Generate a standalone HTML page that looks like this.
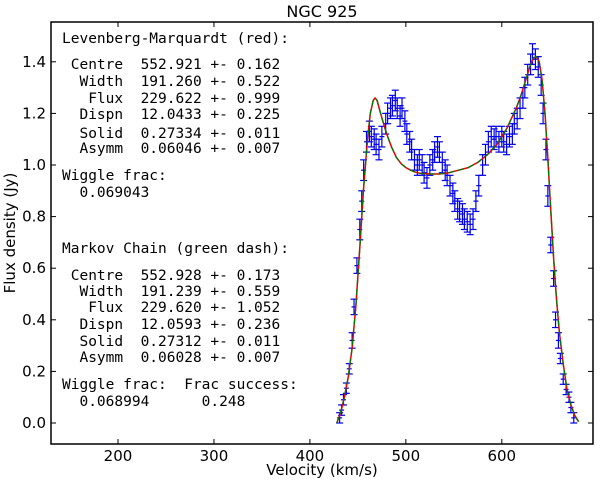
<!DOCTYPE html>
<html><head><meta charset="utf-8"><style>
body{margin:0;background:#fff;}
svg{display:block;}
.mono{font-family:"DejaVu Sans Mono","Liberation Mono",monospace;font-size:14.5px;fill:#000;white-space:pre;}
.tk{font-family:"DejaVu Sans","Liberation Sans",sans-serif;font-size:15px;fill:#000;}
</style></head><body>
<svg id="chart" width="600" height="483" xmlns="http://www.w3.org/2000/svg">
<text x="322" y="17" text-anchor="middle" style="font-family:'DejaVu Sans','Liberation Sans',sans-serif;font-size:16px">NGC 925</text>
<g id="axes"></g>
<g id="marks"></g>
<rect x="51" y="22" width="542" height="422" fill="none" stroke="#000" stroke-width="1.5"/>
<text class="tk" x="322" y="475" text-anchor="middle">Velocity (km/s)</text>
<text class="tk" transform="translate(15,233) rotate(-90)" text-anchor="middle">Flux density (Jy)</text>
<g>
<text class="mono" x="62" y="43">Levenberg-Marquardt (red):</text>
<text class="mono" x="62" y="69"> Centre  552.921 +- 0.162</text>
<text class="mono" x="62" y="86">  Width  191.260 +- 0.522</text>
<text class="mono" x="62" y="103">   Flux  229.622 +- 0.999</text>
<text class="mono" x="62" y="119">  Dispn  12.0433 +- 0.225</text>
<text class="mono" x="62" y="138">  Solid  0.27334 +- 0.011</text>
<text class="mono" x="62" y="153">  Asymm  0.06046 +- 0.007</text>
<text class="mono" x="62" y="180">Wiggle frac:</text>
<text class="mono" x="62" y="197">  0.069043</text>
<text class="mono" x="62" y="253">Markov Chain (green dash):</text>
<text class="mono" x="62" y="280"> Centre  552.928 +- 0.173</text>
<text class="mono" x="62" y="296">  Width  191.239 +- 0.559</text>
<text class="mono" x="62" y="312">   Flux  229.620 +- 1.052</text>
<text class="mono" x="62" y="329">  Dispn  12.0593 +- 0.236</text>
<text class="mono" x="62" y="346">  Solid  0.27312 +- 0.011</text>
<text class="mono" x="62" y="362">  Asymm  0.06028 +- 0.007</text>
<text class="mono" x="62" y="389">Wiggle frac:  Frac success:</text>
<text class="mono" x="62" y="406">  0.068994      0.248</text>
</g>
</svg>
<script>
const xTicks=[200,300,400,500,600];
const yTicks=[0.0,0.2,0.4,0.6,0.8,1.0,1.2,1.4];
const yTickLabels=["0.0","0.2","0.4","0.6","0.8","1.0","1.2","1.4"];
const dataVel=[431,433,435,438,441,444,446,449,452,454,456,459,462,464,467,469,472,475,479,481,484,486,489,491,494,496,499,501,504,506,509,512,514,517,519,522,525,528,530,533,535,538,541,543,546,549,551,554,556,559,561,564,567,570,573,576,580,583,586,589,592,594,597,600,602,605,608,611,613,616,619,622,624,627,630,632,635,638,641,643,646,648,651,654,656,659,661,664,667,670,672,675];
const dataFlux=[0.02,0.05,0.09,0.135,0.21,0.32,0.45,0.61,0.75,0.86,0.98,1.09,1.13,1.11,1.10,1.08,1.06,1.11,1.16,1.20,1.22,1.23,1.25,1.22,1.19,1.22,1.17,1.12,1.09,1.06,1.02,1.00,1.02,1.00,0.97,0.95,1.00,1.02,1.05,1.07,1.05,1.01,0.98,0.96,0.92,0.89,0.86,0.83,0.82,0.81,0.79,0.78,0.77,0.79,0.86,0.92,1.00,1.04,1.09,1.11,1.10,1.11,1.09,1.11,1.09,1.08,1.11,1.12,1.16,1.18,1.22,1.26,1.30,1.35,1.39,1.43,1.41,1.38,1.31,1.20,1.06,0.88,0.69,0.56,0.40,0.32,0.25,0.17,0.13,0.10,0.06,0.02];
const modelVel=[428,432,436,440,444,448,452,456,460,463,466,468,470,473,476,480,485,490,495,500,505,510,515,525,535,545,555,565,575,585,595,605,615,620,625,630,633,636,639,642,645,648,651,654,657,660,664,668,672,676,680];
const modelFlux=[0,0.04,0.1,0.18,0.29,0.46,0.68,0.91,1.1,1.2,1.25,1.26,1.25,1.21,1.17,1.12,1.07,1.03,1.005,0.99,0.98,0.972,0.968,0.965,0.965,0.97,0.98,0.99,1.01,1.04,1.08,1.14,1.22,1.27,1.33,1.39,1.415,1.42,1.40,1.33,1.20,1.02,0.83,0.64,0.48,0.35,0.23,0.13,0.07,0.03,0.005];
const NS='http://www.w3.org/2000/svg';
const X=v=>118+(v-200)*0.9595;
const Y=f=>423-f*258;
const axes=document.getElementById('axes'),marks=document.getElementById('marks');
function mk(tag,attrs,parent){const e=document.createElementNS(NS,tag);for(const k in attrs)e.setAttribute(k,attrs[k]);parent.appendChild(e);return e;}
xTicks.forEach(t=>{
 const x=X(t);
 const a=mk('line',{x1:x,x2:x,y1:444,y2:439,stroke:'#000'},axes);
 
 
 const b=mk('line',{x1:x,x2:x,y1:22,y2:27,stroke:'#000'},axes);
 
 
 const tx=mk('text',{x:x,y:461,'text-anchor':'middle','class':'tk'},axes);
 tx.textContent=t;
 
 
});
yTicks.forEach((t,i)=>{
 const y=Y(t);
 const a=mk('line',{x1:51,x2:56,y1:y,y2:y,stroke:'#000'},axes);
 
 
 const b=mk('line',{x1:593,x2:588,y1:y,y2:y,stroke:'#000'},axes);
 
 
 const tx=mk('text',{x:46,y:y+5,'text-anchor':'end','class':'tk'},axes);
 tx.textContent=yTickLabels[i];
 
 
});
dataVel.forEach((v,i)=>{
 const f=dataFlux[i];const x=X(v);
 const e=(f<0.3?0.02:(f<0.7?0.03:0.04));
 const y1=Y(f+e),y2=Y(f-e);
 const g=mk('g',{stroke:'#0000ee','stroke-width':1.2},marks);
 
 
 mk('line',{x1:x,x2:x,y1:y1,y2:y2},g);
 mk('line',{x1:x-3.5,x2:x+3.5,y1:y1,y2:y1},g);
 mk('line',{x1:x-3.5,x2:x+3.5,y1:y2,y2:y2},g);
 mk('line',{x1:x-2.5,x2:x+2.5,y1:Y(f),y2:Y(f)},g);
});
const pts=modelVel.map((v,i)=>X(v).toFixed(1)+','+Y(modelFlux[i]).toFixed(1)).join(' ');
const red=mk('polyline',{points:pts,fill:'none',stroke:'#ee0000','stroke-width':1.5,'stroke-linejoin':'round'},marks);


const grn=mk('polyline',{points:pts,fill:'none',stroke:'#007700','stroke-width':1.3,'stroke-dasharray':'6,4'},marks);


</script>
</body></html>
